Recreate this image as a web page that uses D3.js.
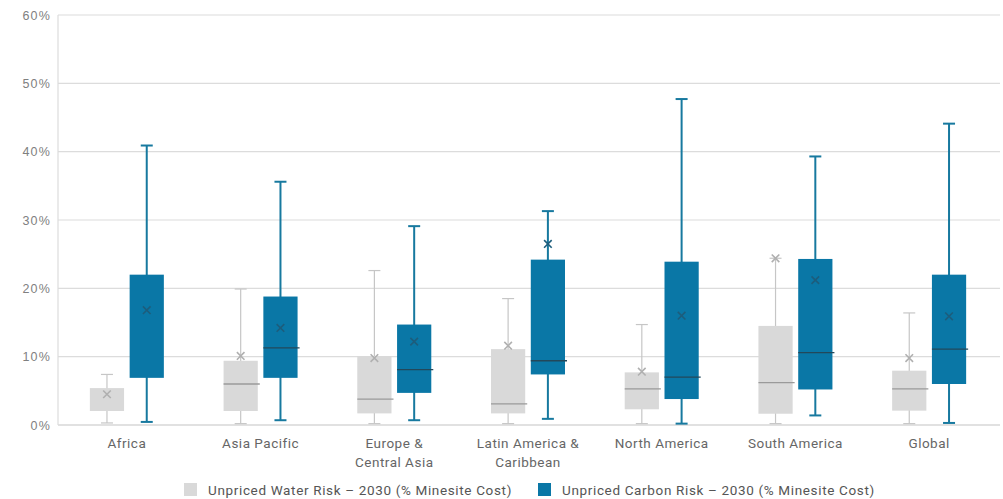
<!DOCTYPE html>
<html><head><meta charset="utf-8">
<script src="https://cdn.jsdelivr.net/npm/d3@7"></script>
<style>body{margin:0;background:#fff}svg{display:block;font-family:"Roboto","Liberation Sans",sans-serif}</style>
</head><body>
<svg id="c" width="1003" height="499"></svg>
<script>
const categories = ["Africa","Asia Pacific","Europe & Central Asia","Latin America & Caribbean","North America","South America","Global"];
const categoryLines = [["Africa"],["Asia Pacific"],["Europe &","Central Asia"],["Latin America &","Caribbean"],["North America"],["South America"],["Global"]];
const seriesNames = ["Unpriced Water Risk – 2030 (% Minesite Cost)","Unpriced Carbon Risk – 2030 (% Minesite Cost)"];
// [min, q1, median, q3, max, mean] in %
const waterStats = [
  [0.3, 2.05, 2.05, 5.4, 7.4, 4.5],
  [0.2, 2.05, 6.0, 9.4, 19.9, 10.1],
  [0.2, 1.7, 3.8, 10.1, 22.6, 9.8],
  [0.2, 1.7, 3.1, 11.1, 18.5, 11.6],
  [0.2, 2.3, 5.3, 7.7, 14.7, 7.8],
  [0.2, 1.65, 6.2, 14.5, 24.4, 24.4],
  [0.2, 2.1, 5.3, 7.95, 16.4, 9.8]
];
const carbonStats = [
  [0.45, 6.9, 6.9, 22.0, 40.9, 16.8],
  [0.7, 6.9, 11.3, 18.8, 35.6, 14.2],
  [0.7, 4.7, 8.1, 14.7, 29.1, 12.2],
  [0.9, 7.4, 9.4, 24.2, 31.3, 26.5],
  [0.2, 3.8, 7.0, 23.9, 47.7, 16.0],
  [1.4, 5.2, 10.6, 24.3, 39.3, 21.2],
  [0.3, 6.0, 11.1, 22.0, 44.1, 15.9]
];
const yTicks = [0,10,20,30,40,50,60];

const svg = d3.select("#c");
const y = d3.scaleLinear().domain([0,60]).range([425,15]);
const x = d3.scaleBand().domain(categories).range([60,996]);
const sub = d3.scaleBand().domain([0,1]).range([-37,37]).paddingInner(0.14);

// gridlines
svg.append("g").selectAll("line").data(yTicks).join("line")
  .attr("x1",58).attr("x2",1000).attr("y1",d=>y(d)).attr("y2",d=>y(d))
  .attr("stroke",d=>d===0?"#c4c4c4":"#dcdcdc").attr("stroke-width",1.2);
svg.append("line").attr("x1",58).attr("x2",58).attr("y1",y(60)).attr("y2",y(0)).attr("stroke","#dcdcdc").attr("stroke-width",1.2);

// y axis labels
const yAxis = d3.axisLeft(y).tickValues(yTicks).tickFormat(d=>d+"%").tickSize(0).tickPadding(7);
const ga = svg.append("g").attr("transform","translate(58,0)").call(yAxis);
ga.select(".domain").remove();
ga.selectAll("text").attr("fill","#808080").attr("font-size",12.5).attr("letter-spacing",1.2).attr("font-family",null);

// x labels
const xl = svg.append("g").selectAll("text").data(categories).join("text")
  .attr("x",d=>x(d)+x.bandwidth()/2).attr("y",448)
  .attr("text-anchor","middle").attr("fill","#666").attr("font-size",13.5).attr("letter-spacing",0.5);
xl.each(function(d,i){
  const t=d3.select(this);
  categoryLines[i].forEach((l,j)=>t.append("tspan").attr("x",x(d)+x.bandwidth()/2).attr("dy",j===0?0:19).text(l));
});

const styles = [
  {box:"#d9d9d9", whisk:"#c6c6c6", ww:1.2, med:"#9a9a9a", mean:"#b0b0b0"},
  {box:"#0a77a6", whisk:"#17799f", ww:2, med:"#23485a", mean:"#1d5d7c"}
];
const bw = sub.bandwidth();
[waterStats, carbonStats].forEach((stats, s)=>{
  const st = styles[s];
  const g = svg.append("g");
  stats.forEach((v,i)=>{
    const cx = x(categories[i]) + x.bandwidth()/2 + sub(s) + bw/2;
    const [mn,q1,md,q3,mx,mean] = v;
    g.append("line").attr("x1",cx).attr("x2",cx).attr("y1",y(mx)).attr("y2",y(mn)).attr("stroke",st.whisk).attr("stroke-width",st.ww);
    [mn,mx].forEach(e=>g.append("line").attr("x1",cx-6).attr("x2",cx+6).attr("y1",y(e)).attr("y2",y(e)).attr("stroke",st.whisk).attr("stroke-width",st.ww));
    g.append("rect").attr("x",cx-bw/2).attr("width",bw).attr("y",y(q3)).attr("height",y(q1)-y(q3)).attr("fill",st.box);
    if (md !== q1) g.append("line").attr("x1",cx-bw/2).attr("x2",cx+bw/2+2).attr("y1",y(md)).attr("y2",y(md)).attr("stroke",st.med).attr("stroke-width",1.3);
    const m=3.8, my=y(mean);
    g.append("path").attr("d",`M${cx-m},${my-m}L${cx+m},${my+m}M${cx-m},${my+m}L${cx+m},${my-m}`).attr("stroke",st.mean).attr("stroke-width",1.6).attr("fill","none");
  });
});

// legend
const leg = [{x:184, c:styles[0].box},{x:538, c:styles[1].box}];
leg.forEach((l,i)=>{
  svg.append("rect").attr("x",l.x).attr("y",483).attr("width",13).attr("height",13).attr("fill",l.c);
  svg.append("text").attr("x",l.x+24).attr("y",494.5).attr("fill","#555").attr("font-size",13.5).attr("letter-spacing",0.65).text(seriesNames[i]);
});
</script>
</body></html>
